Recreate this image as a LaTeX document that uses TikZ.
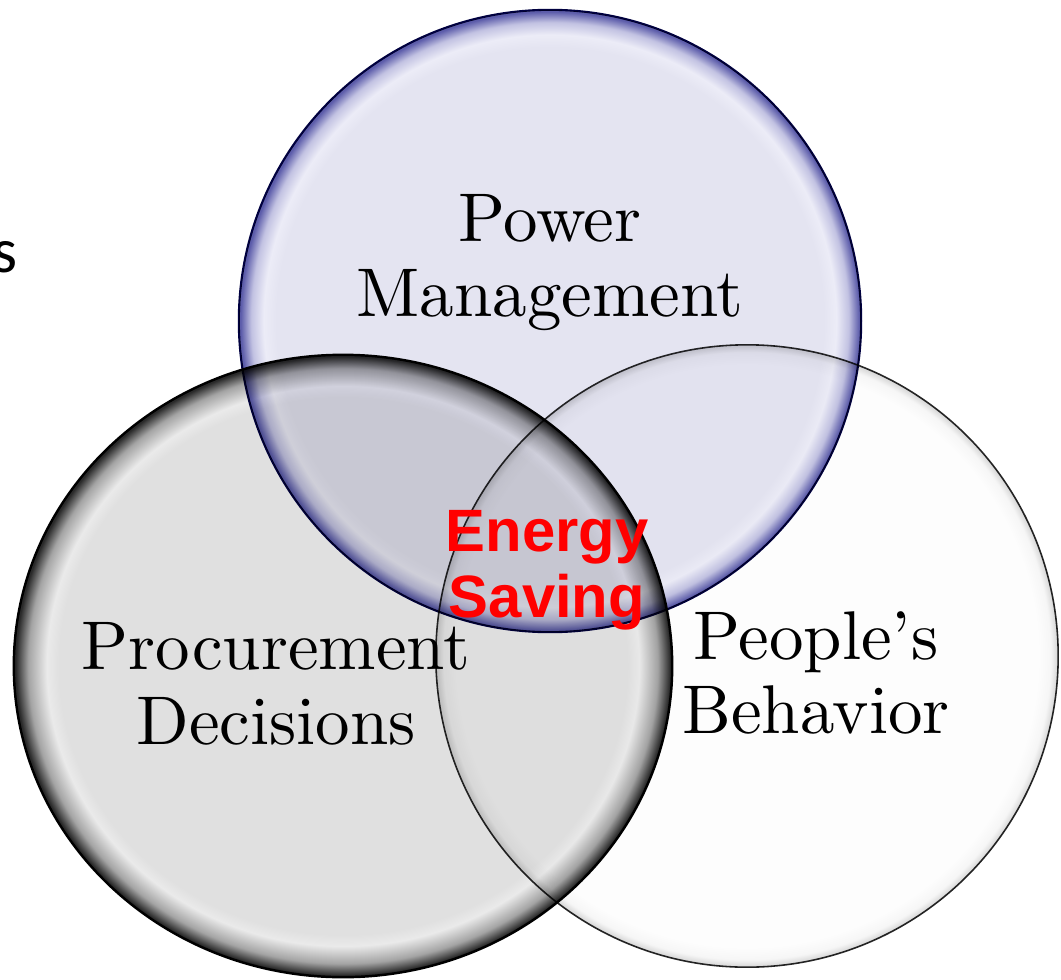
\documentclass[tikz,border=0pt]{standalone}
\usepackage{fontspec}
\newfontfamily\vennfont{lmroman10-regular}[Extension=.otf]
\newfontfamily\savingfont{Liberation Sans}
\newfontfamily\bodyfont{Carlito}
\usetikzlibrary{shapes.geometric,positioning}

% glassy fills for the three sets
\definecolor{pmfill}{HTML}{E4E4F1}
\definecolor{pmshine}{HTML}{ECECF7}
\definecolor{pmglow}{HTML}{C2C2E2}
\definecolor{pmrim}{HTML}{5C5CAA}
\definecolor{pdfill}{HTML}{E0E0E0}
\definecolor{pdshine}{HTML}{EAEAEA}
\definecolor{pdglow}{HTML}{A4A4A4}
\definecolor{pdrim}{HTML}{2A2A2A}
\definecolor{pbfill}{HTML}{FDFDFD}
\definecolor{pbglow}{HTML}{F6F6F6}
\definecolor{pbrim}{HTML}{DADADA}
\pgfdeclareradialshading{pmglass}{\pgfpointorigin}{color(0bp)=(pmfill); color(22bp)=(pmfill); color(23bp)=(pmshine); color(24bp)=(pmglow); color(24.85bp)=(pmrim); color(25bp)=(pmrim)}
\pgfdeclareradialshading{pdglass}{\pgfpointorigin}{color(0bp)=(pdfill); color(21.6bp)=(pdfill); color(22.5bp)=(pdshine); color(23.9bp)=(pdglow); color(24.85bp)=(pdrim); color(25bp)=(pdrim)}
\pgfdeclareradialshading{pbglass}{\pgfpointorigin}{color(0bp)=(pbfill); color(23.4bp)=(pbfill); color(24.4bp)=(pbglow); color(24.9bp)=(pbrim); color(25bp)=(pbrim)}

\tikzset{
  vennset/.style={inner sep=0pt, outer sep=0pt},
  vennlabel/.style={align=center, inner sep=0pt, text=black,
    font={\vennfont\fontsize{19.6}{21.3}\selectfont}},
  savinglabel/.style={align=center, inner sep=0pt, text=red,
    font={\savingfont\bfseries\fontsize{17}{18.8}\selectfont}}
}

\begin{document}
\begin{tikzpicture}[x=0.01cm, y=0.01cm]
\useasboundingbox (0,0) rectangle (1061,-979);
\fill[white] (0,0) rectangle (1061,-979);

\begin{scope}[blend mode=multiply]
\node[vennset, circle, minimum size=6.22cm, shading=pmglass,
  draw=black!75!blue, line width=0.6pt] (power) at (550,-321) {};
\node[vennset, ellipse, minimum width=6.58cm, minimum height=6.22cm,
  shading=pdglass, draw=black, line width=0.7pt] (procure) at (343,-666) {};
\node[vennset, circle, minimum size=6.22cm, shading=pbglass,
  draw=black!85, line width=0.45pt] (behave) at (747,-656) {};
\end{scope}

\node[vennlabel] (powertext) at (550,-263) {Power\\Management};
\node[vennlabel] (procuretext) at (276,-684) {Procurement\\Decisions};
\node[vennlabel] (behavetext) at (816,-673) {People’s\\Behavior};
\node[savinglabel] (savingtext) at (547,-570) {Energy\\Saving};

% trailing letter of the slide text, cut by the page edge
\node[anchor=base west, inner sep=0pt, font={\bodyfont\fontsize{18.2}{20}\selectfont}]
  (cuttext) at (-8,-272) {s};
\end{tikzpicture}
\end{document}
